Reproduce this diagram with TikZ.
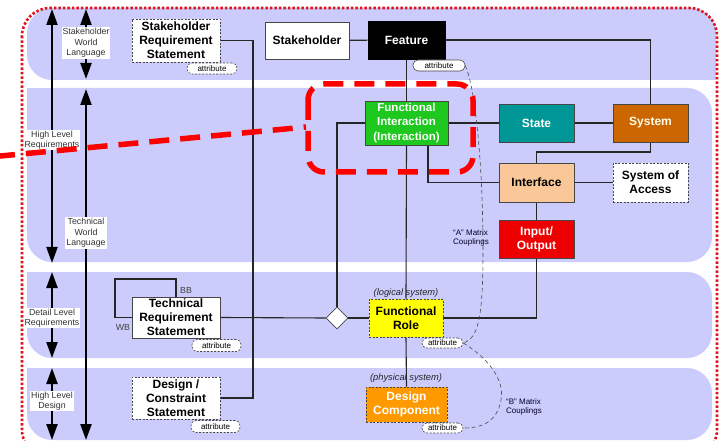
\documentclass[tikz,border=0pt]{standalone}
\usepackage{fontspec}
\setmainfont{Liberation Sans}
\usetikzlibrary{arrows.meta,shapes.geometric}
\definecolor{band}{RGB}{204,204,252}
\definecolor{fgreen}{RGB}{30,200,30}
\definecolor{fteal}{RGB}{0,150,150}
\definecolor{fsys}{RGB}{204,102,0}
\definecolor{fint}{RGB}{250,200,152}
\definecolor{fio}{RGB}{238,0,0}
\definecolor{fyel}{RGB}{255,255,0}
\definecolor{fdc}{RGB}{255,153,0}
\definecolor{edge}{RGB}{70,70,70}
\definecolor{bred}{RGB}{220,20,30}
\pgfdeclarelayer{bg}
\pgfdeclarelayer{lines}
\pgfdeclarelayer{top}
\pgfsetlayers{bg,lines,main,top}
\begin{document}
\begin{tikzpicture}[x=1pt,y=-1pt,
  box/.style={draw=edge, line width=0.8pt, align=center, inner sep=1pt, font=\bfseries\fontsize{12}{14}\selectfont},
  dbox/.style={box, dash pattern=on 2pt off 1.5pt},
  attr/.style={draw=edge, fill=white, rounded corners=5pt, dash pattern=on 2pt off 1.5pt, line width=0.6pt, inner sep=0pt, font=\fontsize{8}{8}\selectfont},
  lbl/.style={fill=white, align=center, inner sep=1pt, font=\fontsize{8.8}{10.5}\selectfont, text=black!80},
  axis/.style={line width=2.3pt, {Triangle[length=16pt,width=11pt]}-{Triangle[length=16pt,width=11pt]}},
  conn/.style={line width=1.1pt, black!85},
  coup/.style={draw=black!70, line width=0.6pt, dash pattern=on 4pt off 3pt},
  ctext/.style={align=left, font=\fontsize{8}{9.5}\selectfont, text=black!75!blue!60!black},
  redov/.style={draw=red, line width=5.5pt, dash pattern=on 20pt off 11pt},
  subt/.style={font=\itshape\fontsize{9.3}{10}\selectfont, text=black!85}
]
\useasboundingbox (0,0) rectangle (721,441);

% ---------- bands ----------
\begin{pgfonlayer}{bg}
\fill[white] (0,0) rectangle (721,441);
\begin{scope}
\clip (0,0) rectangle (721,441);
% band 1
\fill[band, rounded corners=25pt] (27,8) rectangle (716,80);
\fill[band] (660,50) rectangle (716,80);
% band 2
\fill[band, rounded corners=25pt] (27,88) rectangle (712,262);
\fill[band] (27,88) rectangle (70,130);
% band 3
\fill[band, rounded corners=25pt] (27,272) rectangle (712,358);
\fill[band] (27,272) rectangle (70,310);
% band 4
\fill[band, rounded corners=25pt] (27,368) rectangle (712,440);
\fill[band] (27,368) rectangle (70,410);
% border
\draw[bred, line width=2.6pt, dash pattern=on 2.5pt off 2pt, rounded corners=28pt] (22,8) rectangle (717,458);
\end{scope}
\end{pgfonlayer}

% ---------- axis arrows ----------
\coordinate (a1t) at (52,9);   \coordinate (a1b) at (52,263);
\coordinate (a2t) at (52,272); \coordinate (a2b) at (52,358);
\coordinate (a3t) at (52,368); \coordinate (a3b) at (52,440);
\coordinate (b1t) at (86,9);   \coordinate (b1b) at (86,79);
\coordinate (b2t) at (86,89);  \coordinate (b2b) at (86,440);
\draw[axis] (a1t) -- (a1b);
\draw[axis] (a2t) -- (a2b);
\draw[axis] (a3t) -- (a3b);
\draw[axis] (b1t) -- (b1b);
\draw[axis] (b2t) -- (b2b);
\node[lbl] (lswl) at (86,43) {Stakeholder\\World\\Language};
\node[lbl] (lhlr) at (52,140) {High Level\\Requirements};
\node[lbl] (ltwl) at (86,233) {Technical\\World\\Language};
\node[lbl] (ldlr) at (52,318) {Detail Level\\Requirements};
\node[lbl] (lhld) at (52,401) {High Level\\Design};

% ---------- nodes ----------
\node[dbox, fill=white, minimum width=88pt, minimum height=43pt] (srs) at (176,40.5) {Stakeholder\\Requirement\\Statement};
\node[attr, minimum width=50pt, minimum height=11pt] (asrs) at (212,68.5) {attribute};

\node[box, fill=white, minimum width=84pt, minimum height=37pt] (stk) at (307,40.5) {Stakeholder};
\node[box, fill=black, draw=black, text=white, minimum width=77pt, minimum height=38pt] (feat) at (406.5,40) {Feature};
\node[attr, solid, minimum width=52pt, minimum height=11pt] (afeat) at (439,65.5) {attribute};

\node[box, fill=fgreen, text=white, minimum width=83pt, minimum height=44pt, font=\bfseries\fontsize{11.5}{14.5}\selectfont] (fi) at (406.5,123) {Functional\\Interaction\\(Interaction)};
\node[box, fill=fteal, text=white, minimum width=75pt, minimum height=38pt] (state) at (536.5,123) {State};
\node[box, fill=fsys, text=white!92!yellow, minimum width=75pt, minimum height=38pt] (sys) at (650.5,123) {System};
\node[box, fill=fint, minimum width=75pt, minimum height=39pt] (intf) at (536.5,182.5) {Interface};
\node[dbox, fill=white, minimum width=75pt, minimum height=39pt] (soa) at (650.5,182.5) {System of\\Access};
\node[box, fill=fio, text=white, minimum width=75pt, minimum height=38pt] (io) at (536.5,239) {Input/\\Output};

\node[dbox, fill=fyel, minimum width=74pt, minimum height=38pt] (fr) at (406,318) {Functional\\Role};
\node[subt] (lls) at (406,293) {(logical system)};
\node[attr, minimum width=41pt, minimum height=10pt] (afr) at (442.5,343) {attribute};

\node[dbox, fill=fdc, text=white, minimum width=81pt, minimum height=35pt] (dc) at (406.5,404.5) {Design\\Component};
\node[subt] (lps) at (406,378) {(physical system)};
\node[attr, minimum width=41pt, minimum height=10pt] (adc) at (442.5,428) {attribute};

\node[box, fill=white, minimum width=88pt, minimum height=41pt] (trs) at (176,317.5) {Technical\\Requirement\\Statement};
\node[attr, minimum width=49pt, minimum height=12pt] (atrs) at (216.5,345.5) {attribute};
\node[dbox, fill=white, minimum width=88pt, minimum height=42pt] (dcs) at (176,398) {Design /\\Constraint\\Statement};
\node[attr, minimum width=49pt, minimum height=12pt] (adcs) at (215.5,426.5) {attribute};

\node[diamond, draw=edge, fill=white, minimum size=22pt, inner sep=0pt, line width=0.7pt] (dia) at (337,318) {};

\node[font=\fontsize{8.8}{9}\selectfont, text=black!75] (bb) at (186,290) {BB};
\node[font=\fontsize{8.8}{9}\selectfont, text=black!75] (wb) at (123,327) {WB};

\node[ctext] (acoup) at (471,238) {``A'' Matrix\\Couplings};
\node[ctext] (bcoup) at (524,407) {``B'' Matrix\\Couplings};

% ---------- connectors ----------
\coordinate (rail) at (253,40.5);
\coordinate (sysj) at (536.5,152);
\coordinate (bbA) at (176,279);
\coordinate (bbB) at (115,279);
\coordinate (fij) at (428,145);
\begin{pgfonlayer}{lines}
\draw[conn] (srs.east) -- (rail) |- (dcs.east);
\draw[conn] (stk) -- (feat);
\draw[conn] (feat.east) -| (sys.north);
\draw[conn] (feat.south) -- (fi.north);
\draw[conn] (fi.south) -- (fr.north);
\draw[conn] (fr.south) -- (dc.north);
\draw[conn] (fi.west) -| (dia.north);
\draw[conn] (fi.east) -- (state.west);
\draw[conn] (state.east) -- (sys.west);
\draw[conn] (fij) |- (intf.west);
\draw[conn] (sys.south) |- (sysj) -- (intf.north);
\draw[conn] (intf.east) -- (soa.west);
\draw[conn] (intf.south) -- (io.north);
\draw[conn] (io.south) |- (fr.east);
\draw[conn] (trs.east) -- (dia.west);
\draw[conn] (dia.east) -- (fr.west);
\draw[conn] (trs.north) -- (bbA) -- (bbB) |- (trs.west);
\draw[coup] (afeat.east) .. controls (476,90) and (483,170) .. (483,250)
  .. controls (483,320) and (478,338) .. (afr.east);
\draw[coup] (afr.east) .. controls (488,358) and (505,380) .. (501,400)
  .. controls (497,422) and (482,428) .. (adc.east);
\end{pgfonlayer}

% ---------- red overlay ----------
\begin{pgfonlayer}{top}
\coordinate (rs) at (-5,156.5);
\coordinate (re) at (306,127);
\draw[redov] (rs) -- (re);
\draw[redov, rounded corners=16pt] (308,84) rectangle (473,172);
\end{pgfonlayer}
\end{tikzpicture}
\end{document}
